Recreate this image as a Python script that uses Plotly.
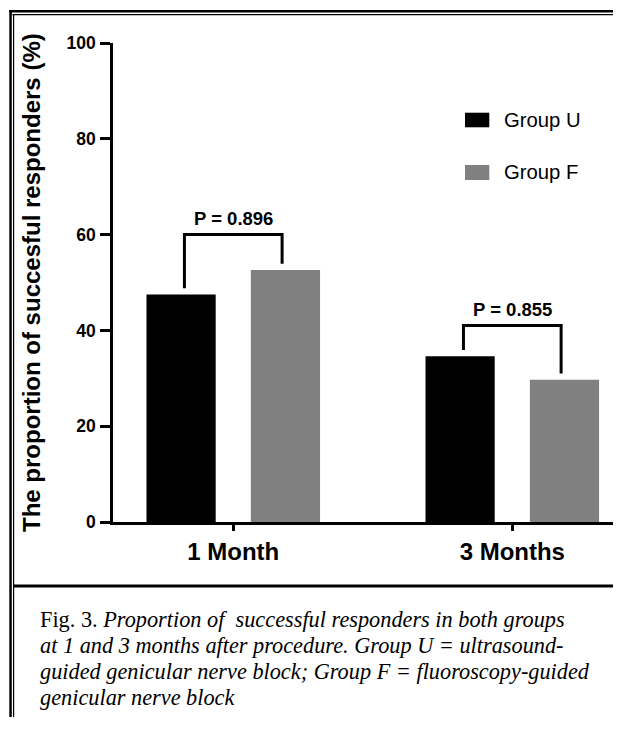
import plotly.graph_objects as go

# ---- data ----
categories = ["1 Month", "3 Months"]
series_names = ["Group U", "Group F"]
group_u = [47.5, 34.6]
group_f = [52.6, 29.7]
p_values = ["P = 0.896", "P = 0.855"]
bracket_tops = [60.0, 41.0]
y_ticks = [0, 20, 40, 60, 80, 100]
y_title = "The proportion of succesful responders (%)"
caption_lines = [
    "Fig. 3. <i>Proportion of  successful responders in both groups</i>",
    "<i>at 1 and 3 months after procedure. Group U = ultrasound-</i>",
    "<i>guided genicular nerve block; Group F = fluoroscopy-guided</i>",
    "<i>genicular nerve block</i>",
]

COLOR_U = "#000000"
COLOR_F = "#808080"
SANS = "Liberation Sans, Arial, sans-serif"
SERIF = "Liberation Serif, Times New Roman, serif"

# the page body has an 8px margin; the figure is sized to fit the window
OFF = 8
W, H = 621 - OFF, 731 - 2 * OFF - 6
ML, MR, MT, MB = 113 - OFF, 0, 43 - OFF, H - (522 - OFF)
PW = W - ML - MR
PH = H - MT - MB


def px_x(p):
    return (p - OFF - ML) / PW


def px_y(p):
    return (H - MB - (p - OFF)) / PH


xs = list(range(len(categories)))
BAR_W = 0.248

fig = go.Figure()
fig.add_trace(go.Bar(x=xs, y=group_u, name=series_names[0], width=BAR_W,
                     offset=-0.311, marker=dict(color=COLOR_U, line=dict(width=0)),
                     showlegend=False))
fig.add_trace(go.Bar(x=xs, y=group_f, name=series_names[1], width=BAR_W,
                     offset=0.063, marker=dict(color=COLOR_F, line=dict(width=0)),
                     showlegend=False))

# significance brackets
LEG = 0.175
annotations = []
for i, (u, f, top, ptxt) in enumerate(zip(group_u, group_f, bracket_tops, p_values)):
    fig.add_trace(go.Scatter(
        x=[i - LEG, i - LEG, i + LEG, i + LEG],
        y=[u + 1.3, top, top, f + 1.3],
        mode="lines", line=dict(color="black", width=3),
        showlegend=False, hoverinfo="skip"))
    annotations.append(dict(
        x=i, y=top, xref="x", yref="y", text="<b>%s</b>" % ptxt,
        showarrow=False, xanchor="center", yanchor="middle", yshift=16,
        font=dict(family=SANS, size=18.5, color="black")))

# y-axis title
annotations.append(dict(
    x=px_x(31), y=px_y(283), xref="paper", yref="paper", text="<b>%s</b>" % y_title,
    textangle=-90, showarrow=False, xanchor="center", yanchor="middle",
    font=dict(family=SANS, size=24, color="black")))

# legend (custom)
shapes = []
legend_rows = [(112.7, 127.3), (165.0, 180.0)]
for (y0, y1), name, col in zip(legend_rows, series_names, [COLOR_U, COLOR_F]):
    shapes.append(dict(type="rect", xref="paper", yref="paper",
                       x0=px_x(465), x1=px_x(489.3), y0=px_y(y1), y1=px_y(y0),
                       fillcolor=col, line=dict(width=0)))
    annotations.append(dict(
        x=px_x(503), y=px_y((y0 + y1) / 2), xref="paper", yref="paper",
        text=name, showarrow=False, xanchor="left", yanchor="middle",
        borderpad=0, font=dict(family=SANS, size=20.3, color="black")))

# caption
cap_centers = [619.0, 645.0, 671.0, 697.0]
for txt, cy in zip(caption_lines, cap_centers):
    annotations.append(dict(
        x=px_x(39), y=px_y(cy), xref="paper", yref="paper", text=txt,
        showarrow=False, xanchor="left", yanchor="middle", borderpad=0,
        font=dict(family=SERIF, size=22.3, color="black")))


# frame lines drawn as thin filled bands
def band(x0, x1, y0, y1):
    return dict(type="rect", xref="paper", yref="paper",
                x0=px_x(x0), x1=px_x(x1), y0=px_y(y1), y1=px_y(y0),
                fillcolor="black", line=dict(width=0))


shapes += [
    band(9.3, 621, 10.0, 12.5),     # top, thick
    band(12.3, 621, 14.0, 15.2),    # top, thin
    band(9.3, 11.8, 10.0, 731),     # left, thick
    band(13.0, 14.2, 14.0, 731),    # left, thin
    band(13.0, 621, 584.5, 587.5),  # caption separator
]

fig.update_layout(
    width=W, height=H,
    margin=dict(l=ML, r=MR, t=MT, b=MB, pad=0),
    paper_bgcolor="white", plot_bgcolor="white",
    barmode="overlay",
    annotations=annotations, shapes=shapes,
    xaxis=dict(range=[-0.431, 1.3896], tickvals=xs, ticktext=categories,
               showline=True, linewidth=2.5, linecolor="black",
               ticks="outside", ticklen=6, tickwidth=2.5, tickcolor="black",
               tickfont=dict(family=SANS, size=24, color="black", weight="bold"),
               showgrid=False, zeroline=False, fixedrange=True),
    yaxis=dict(range=[0, 100], tickvals=y_ticks,
               showline=True, linewidth=2.5, linecolor="black",
               ticks="outside", ticklen=10, tickwidth=2.5, tickcolor="black",
               tickfont=dict(family=SANS, size=17.5, color="black", weight="bold"),
               ticklabelstandoff=1,
               showgrid=False, zeroline=False, fixedrange=True),
    showlegend=False,
)

fig.write_html("out.html")
